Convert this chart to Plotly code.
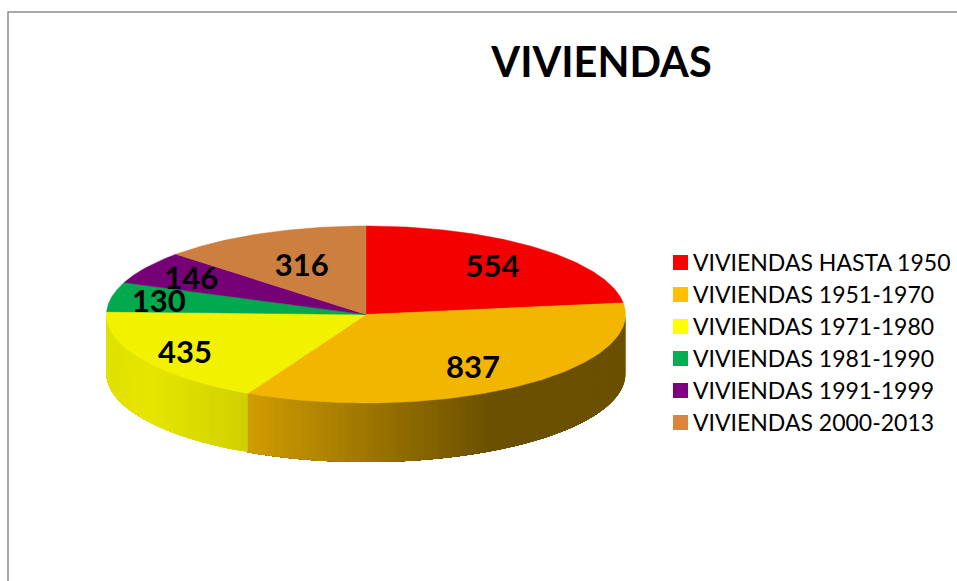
import numpy as np
import plotly.graph_objects as go

categories = ["VIVIENDAS HASTA 1950", "VIVIENDAS 1951-1970", "VIVIENDAS 1971-1980",
              "VIVIENDAS 1981-1990", "VIVIENDAS 1991-1999", "VIVIENDAS 2000-2013"]
values = [554, 837, 435, 130, 146, 316]
top_colors = ["#f40000", "#f2b600", "#f2f200", "#00a84e", "#760076", "#cd7f3f"]
legend_colors = ["#ff0000", "#ffc000", "#ffff00", "#00b050", "#7f007f", "#d9843f"]
side_rgb = [(242, 0, 0), (242, 182, 0), (242, 242, 0), (0, 168, 78), (118, 0, 118), (205, 127, 63)]
label_radius = [0.74, 0.715, 0.81, 0.815, 0.795, 0.62]

CX, CY, RX, RY, DEPTH = 366, 314.5, 259.5, 88.5, 59
LABEL_DY = 4
FONT = "Lato"


def ex(t):
    return CX + RX * np.sin(t)


def ey(t):
    return CY - RY * np.cos(t)


def shade(x):
    return np.interp(x, [107, 150, 248, 490, 625], [0.93, 0.95, 0.86, 0.44, 0.44])


bounds = np.cumsum([0] + values) / sum(values) * 2 * np.pi
fig = go.Figure()

# visible rim: each band runs to the end of its wedge and the next band paints over it,
# so no seams show between the shades
for i in range(len(values)):
    a, b = max(bounds[i], np.pi / 2), min(bounds[i + 1], 3 * np.pi / 2)
    if b <= a:
        continue
    edges = np.linspace(a, b, max(int((b - a) * 36), 2) + 1)
    for t0, t1 in zip(edges[:-1], edges[1:]):
        ts = np.linspace(t0, b, 40)
        xs = np.r_[ex(ts), ex(ts[::-1]), ex(ts[0])]
        ys = np.r_[ey(ts), ey(ts[::-1]) + DEPTH, ey(ts[0])]
        f = shade(ex((t0 + t1) / 2))
        r, g, bl = [int(c * f) for c in side_rgb[i]]
        fig.add_trace(go.Scatter(x=xs, y=ys, mode="none", fill="toself", fillcolor=f"rgb({r},{g},{bl})",
                                 showlegend=False, hoverinfo="skip"))

# top face
for i in range(len(values)):
    ts = np.linspace(bounds[i], bounds[i + 1], 120)
    xs = np.r_[CX, ex(ts), CX]
    ys = np.r_[CY, ey(ts), CY]
    fig.add_trace(go.Scatter(x=xs, y=ys, mode="lines", fill="toself", fillcolor=top_colors[i],
                             line=dict(color=top_colors[i], width=0.5), showlegend=False,
                             name=categories[i], text=str(values[i]), hoverinfo="name+text"))

# data labels
mids = (bounds[:-1] + bounds[1:]) / 2
fig.add_trace(go.Scatter(
    x=CX + np.array(label_radius) * RX * np.sin(mids),
    y=CY + LABEL_DY - np.array(label_radius) * RY * np.cos(mids),
    mode="text", text=[str(v) for v in values], textposition="middle center",
    textfont=dict(family=FONT, size=31, color="black", weight="bold"),
    showlegend=False, hoverinfo="skip"))

# legend drawn on the same axes: square swatches with their text beside them
rows = 262.5 + 32 * np.arange(len(categories))
fig.add_trace(go.Scatter(x=[680.5] * len(categories), y=rows, mode="markers",
                         marker=dict(symbol="square", size=15, color=legend_colors, line=dict(width=0)),
                         showlegend=False, hoverinfo="skip"))
fig.add_trace(go.Scatter(x=[693] * len(categories), y=rows + 3, mode="text", text=categories,
                         textposition="middle right", textfont=dict(family=FONT, size=23, color="black"),
                         showlegend=False, hoverinfo="skip"))

fig.update_layout(
    width=957, height=581, margin=dict(l=0, r=0, t=0, b=0),
    paper_bgcolor="white", plot_bgcolor="white",
    xaxis=dict(range=[0, 957], visible=False, fixedrange=True),
    yaxis=dict(range=[581, 0], visible=False, fixedrange=True),
    title=dict(text="<b>VIVIENDAS</b>", x=601.5 / 957, y=1 - 62 / 581, xanchor="center", yanchor="middle",
               font=dict(family=FONT, size=41.5, color="black")),
    showlegend=False,
    shapes=[dict(type="path", path="M 8 581 L 8 12 L 957 12", line=dict(color="#8c8c8c", width=1.5))],
)
fig.write_html("out.html", config={"displayModeBar": False}, post_script="document.body.style.margin='0';")
